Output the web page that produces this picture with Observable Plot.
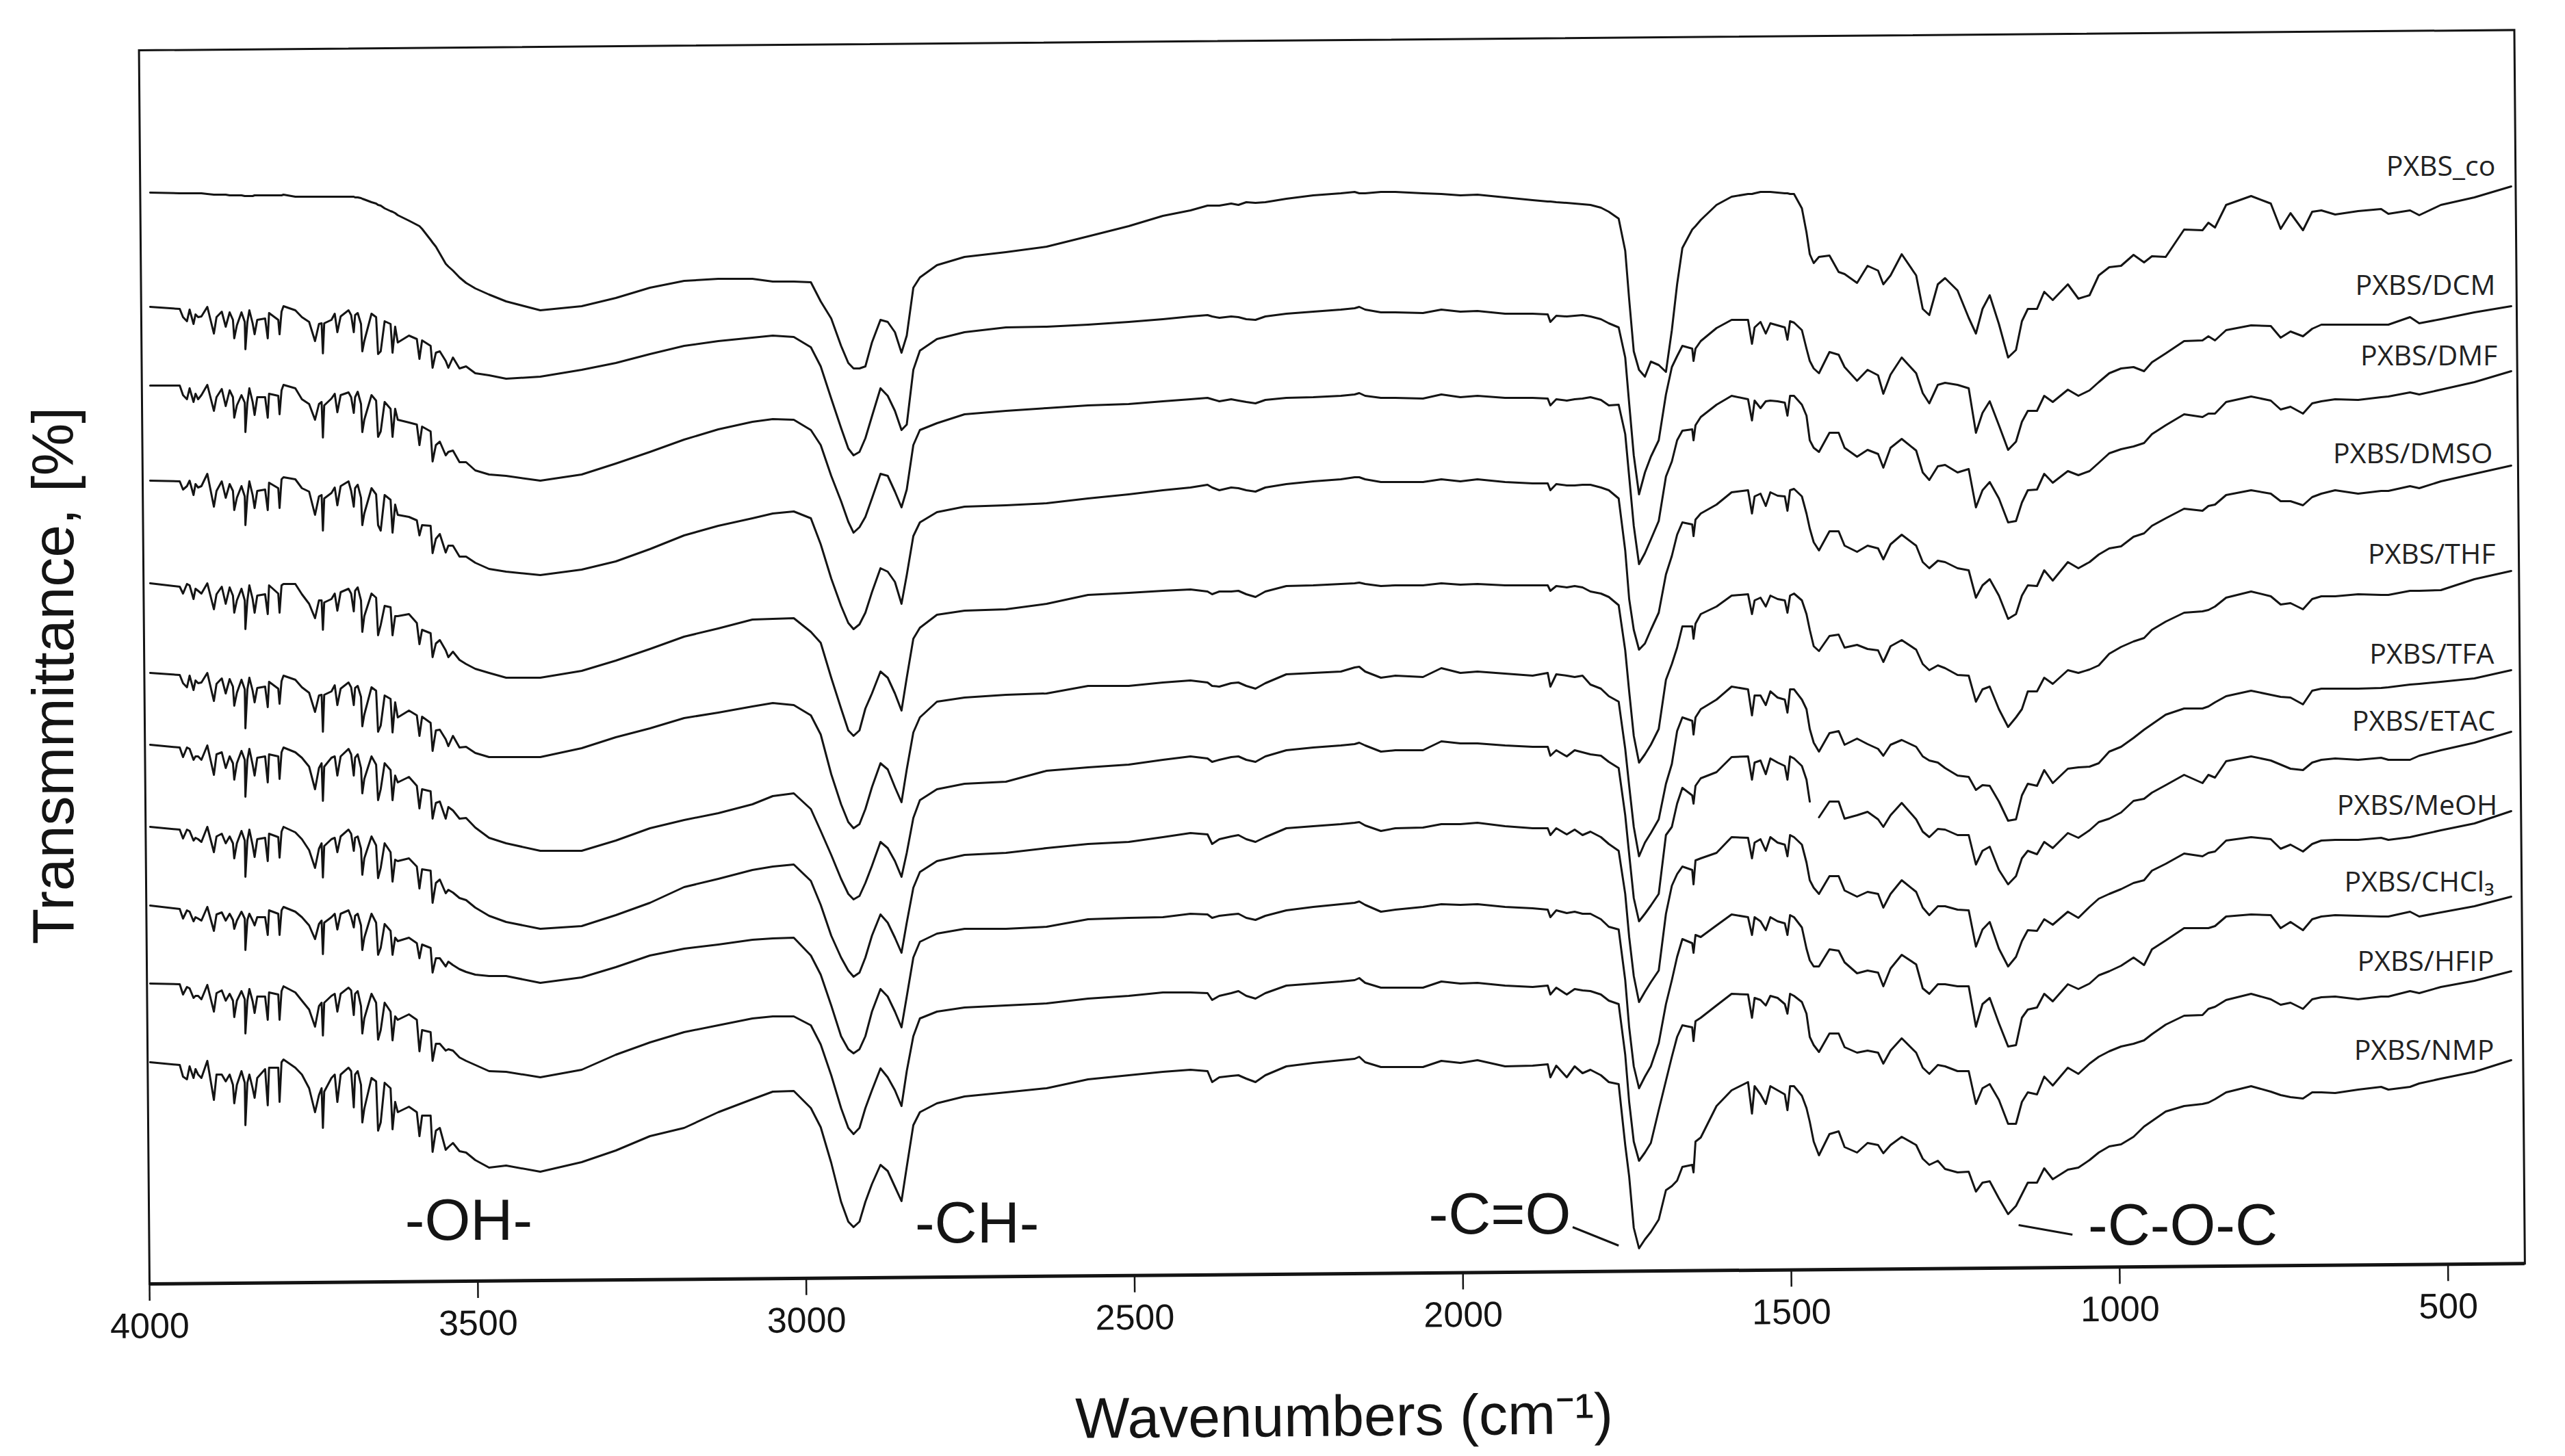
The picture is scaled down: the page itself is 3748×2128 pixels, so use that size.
<!DOCTYPE html>
<html>
<head>
<meta charset="utf-8">
<style>html,body{margin:0;padding:0;background:#fff}svg{display:block}</style>
<script src="https://cdn.jsdelivr.net/npm/d3@7"></script>
<script src="https://cdn.jsdelivr.net/npm/@observablehq/plot@0.6"></script>
</head>
<body>
<div id="chart"></div>
<script>
// Wavenumber grid (cm-1), split in five stretches of the spectrum
const waveA = [3999,3954,3949,3943,3939,3933,3930,3926,3921,3912,3902,3898,3890,3884,3878,3873,3871,3867,3860,3855,3854,3851,3848,3843,3840,3836,3824,3820,3818,3804,3802,3799,3796,3778,3768,3757,3748,3742,3738,3736,3734,3723,3718,3714,3709,3697,3693,3689,3687,3683,3678,3676,3673,3662,3655,3652,3648,3642,3633,3630,3626,3622,3605,3593,3589,3585,3572,3569,3564,3558,3549,3545,3538,3528,3518,3504,3483];
const waveB = [3457,3405,3342,3290,3238,3186,3134,3082,3051,3019,2993,2978,2962,2947,2936,2928,2919,2910,2900,2887,2876,2865,2855,2847,2837,2827,2801,2759,2696];
const waveC = [2634,2571,2509,2457,2415,2389,2382,2371,2353,2342,2330,2316,2301,2269,2228,2186,2165,2158,2149,2125,2103,2061,2033,2004,1978,1936,1894,1871,1867,1858,1842,1830,1818,1806,1790,1778];
const waveD = [1763,1753,1747,1740,1732,1723,1714,1702,1691,1682,1674,1666,1651,1649,1646,1638,1614,1591,1566,1560,1556,1547,1539,1532,1521,1510,1506,1502,1496,1484,1477,1472,1466,1458,1442,1428,1419,1400,1384,1368,1360,1349,1332,1310,1300,1290,1277,1266,1247,1230,1219,1209,1198,1184,1170,1158,1149,1140,1126,1115];
const waveE = [1102,1079,1063,1046,1032,1016,998,979,963,951,930,902,874,865,855,838,800,770,755,740,721,707,693,672,637,602,591,558,544,511,460,404];

// Curve readings, offset-stacked (arbitrary transmittance position, larger = lower on the page)
const co = [
[281,282,282,282,282,282,282,282,282,283,284,284,284,284,285,285,285,285,285,286,286,286,286,286,285,285,285,285,285,285,285,285,284,287,287,287,287,287,287,287,287,287,287,287,287,287,287,287,288,288,289,290,291,295,297,299,300,304,308,309,311,314,322,328,330,334,350,354,360,370,385,389,395,405,413,421,430],
[440,453,447,435,420,410,407,407,411,411,412,440,465,505,530,538,538,535,500,467,470,485,515,490,420,405,387,375,368],
[360,345,330,315,307,300,300,300,297,299,295,296,295,290,285,282,280,282,282,280,280,282,283,285,284,288,292,294,294,295,296,297,298,299,303,309],
[319,366,437,513,540,550,528,533,543,482,415,362,335,333,330,321,299,287,283,283,282,280,280,280,281,282,282,283,283,304,339,371,384,375,373,397,400,413,388,395,415,402,371,402,451,460,415,406,424,464,487,451,431,473,522,511,469,451,451,426],
[438,415,436,431,402,390,388,372,383,374,375,335,336,325,332,299,286,297,334,311,336,309,307,313,308,305,312,307,314,299,288,272]];
const DCM = [
[448,451,463,469,452,473,459,463,462,448,487,463,455,477,456,467,494,475,456,470,510,470,453,472,488,467,465,494,457,467,488,455,447,453,463,470,498,473,472,516,472,467,458,485,462,453,460,485,460,457,473,513,498,458,463,517,513,469,473,515,477,500,490,495,524,497,505,537,515,513,527,537,522,538,535,545,548],
[553,550,540,530,517,505,498,493,490,492,507,535,582,625,655,665,660,640,608,567,578,600,628,620,540,512,495,485,478],
[477,474,470,466,462,460,462,464,462,463,466,467,462,458,455,452,450,448,452,456,456,457,452,455,454,458,458,459,470,461,462,461,460,462,466,472],
[478,522,589,665,722,690,667,643,576,536,520,505,509,527,509,498,479,467,467,502,478,470,487,472,475,478,496,469,471,482,509,527,538,545,514,518,536,556,540,548,575,547,522,545,574,589,562,559,562,567,632,603,586,621,657,645,616,600,600,578],
[587,569,578,570,558,545,538,536,542,529,516,498,497,491,497,482,475,476,493,484,491,480,474,474,474,474,474,463,472,466,456,447]];
const DMF = [
[563,563,577,583,567,587,575,583,577,562,600,580,568,593,570,580,610,592,577,588,631,588,567,587,606,580,580,610,575,578,605,570,562,567,583,590,613,590,587,639,592,582,575,602,577,573,580,603,580,572,590,631,613,577,585,638,630,587,597,638,597,613,617,620,650,623,630,674,650,645,665,660,658,675,675,687,693],
[695,702,693,677,660,642,627,616,612,613,628,650,695,732,762,778,770,755,728,692,695,718,741,715,650,628,618,605,600],
[596,592,590,586,583,581,583,586,583,585,587,589,584,581,580,578,576,574,578,581,581,582,576,580,578,581,581,582,592,583,585,583,582,580,584,592],
[591,634,696,768,824,808,788,761,696,674,643,629,627,643,621,609,591,578,583,614,585,596,586,585,586,588,607,578,578,591,607,643,654,660,632,632,654,667,657,663,683,654,641,658,690,701,681,679,690,685,741,716,704,728,763,761,734,716,715,692],
[705,688,694,688,676,662,656,652,647,634,621,605,609,604,604,587,579,585,598,594,604,589,586,583,584,580,579,573,576,569,558,542]];
const DMSO = [
[702,703,715,710,702,723,707,712,710,692,740,717,703,727,707,717,745,727,710,725,767,725,703,723,742,717,715,745,705,713,742,700,697,700,713,718,752,725,723,775,728,720,712,738,710,703,717,740,713,708,727,767,750,713,722,767,775,723,730,778,737,752,755,760,782,767,768,808,787,780,807,797,797,813,813,822,831],
[835,840,832,820,802,782,768,757,750,747,757,795,845,885,910,919,912,895,865,830,835,850,882,840,783,763,748,740,738],
[735,728,722,716,712,708,712,716,712,713,716,718,712,707,703,700,697,697,700,704,704,704,700,703,700,704,706,706,716,707,709,709,708,708,712,716],
[728,804,875,920,949,940,920,895,839,812,781,763,766,783,759,750,737,719,716,750,725,721,739,719,724,725,746,716,714,725,750,772,792,804,776,776,797,806,797,801,817,795,781,797,821,830,819,821,830,833,873,855,846,870,904,897,870,855,856,833],
[848,821,830,821,810,801,798,784,779,768,757,743,746,739,737,723,716,721,732,732,738,726,721,716,721,717,717,710,713,703,692,680]];
const THF = [
[852,857,867,853,855,875,860,863,867,852,890,868,857,882,858,870,895,877,860,877,919,877,855,875,895,870,868,897,855,867,895,855,853,853,868,882,903,877,877,920,880,875,867,892,865,860,867,893,863,858,877,923,900,867,873,928,913,885,887,928,900,900,897,910,941,920,925,960,940,935,950,960,952,964,970,977,983],
[990,990,980,965,948,930,918,905,904,903,923,939,990,1035,1067,1075,1067,1035,1013,981,990,1013,1038,990,933,917,898,892,890],
[882,869,866,863,861,864,868,864,864,863,868,872,864,856,855,853,852,851,853,856,855,855,852,854,853,855,855,855,863,856,858,856,858,864,867,872],
[884,950,1010,1075,1114,1102,1088,1065,993,970,946,915,915,933,911,897,886,870,868,897,877,873,886,870,875,877,895,870,867,877,897,920,944,951,929,927,946,942,948,950,967,944,935,949,970,979,972,976,986,987,1025,1007,1003,1036,1062,1048,1036,1010,1010,990],
[999,979,983,978,972,955,945,937,932,920,908,895,893,891,886,873,864,871,883,881,890,875,871,871,868,869,869,863,863,862,846,834]];
const TFA = [
[983,986,998,1004,987,1008,994,998,997,983,1024,999,991,1013,992,1003,1031,1012,993,1007,1064,1007,990,1009,1026,1005,1003,1033,996,1006,1028,995,987,993,1004,1012,1040,1016,1015,1069,1015,1010,1001,1030,1006,997,1004,1030,1005,1002,1018,1061,1044,1004,1009,1069,1060,1016,1021,1070,1026,1048,1038,1045,1075,1047,1056,1097,1067,1066,1080,1090,1075,1092,1091,1100,1106],
[1106,1106,1093,1077,1064,1049,1041,1032,1027,1030,1045,1073,1131,1175,1201,1210,1204,1182,1150,1115,1124,1150,1172,1124,1070,1048,1025,1019,1015],
[1013,1002,1002,997,994,997,1002,1003,998,997,1002,1006,998,985,983,981,975,974,981,990,987,989,976,983,981,984,987,983,1003,985,987,989,987,1000,1006,1017],
[1025,1094,1148,1208,1251,1231,1217,1197,1145,1116,1068,1048,1053,1073,1048,1036,1022,1003,1007,1045,1016,1016,1030,1010,1019,1022,1041,1007,1007,1022,1036,1065,1085,1098,1071,1068,1088,1079,1087,1094,1104,1088,1081,1091,1105,1111,1114,1122,1133,1135,1154,1147,1148,1171,1199,1197,1162,1145,1148,1125],
[1144,1123,1121,1120,1115,1098,1091,1078,1066,1058,1044,1035,1035,1032,1026,1017,1009,1015,1018,1019,1029,1009,1006,1006,1006,1005,1004,1000,999,996,991,979]];
const ETAC = [
[1088,1092,1106,1092,1094,1110,1105,1105,1110,1089,1132,1102,1099,1122,1105,1115,1139,1115,1097,1110,1164,1110,1094,1117,1133,1107,1105,1143,1102,1105,1138,1099,1092,1099,1107,1120,1153,1122,1115,1170,1120,1107,1105,1133,1105,1094,1102,1133,1107,1102,1122,1159,1138,1105,1117,1169,1153,1115,1125,1169,1133,1143,1135,1148,1181,1153,1156,1196,1173,1171,1196,1179,1184,1196,1195,1209,1224],
[1232,1243,1243,1228,1210,1198,1188,1175,1163,1159,1182,1214,1249,1284,1306,1314,1309,1290,1265,1230,1239,1258,1281,1246,1195,1169,1153,1145,1142],
[1126,1121,1117,1110,1105,1108,1113,1110,1106,1105,1110,1113,1105,1096,1092,1089,1087,1085,1089,1098,1096,1096,1083,1086,1086,1089,1091,1091,1104,1096,1105,1096,1099,1102,1104,1113],
[1122,1191,1248,1312,1346,1335,1323,1306,1220,1208,1174,1151,1162,1174,1148,1137,1128,1106,1105,1139,1114,1111,1131,1108,1114,1119,1139,1105,1108,1119,1139,1171,null,1194,1171,1171,1196,1191,1186,1197,1208,1191,1173,1197,1215,1223,1211,1212,1220,1220,1263,1243,1237,1271,1292,1280,1254,1243,1248,1230],
[1239,1217,1224,1213,1201,1196,1187,1170,1167,1158,1147,1132,1144,1132,1136,1112,1105,1111,1117,1123,1125,1114,1110,1108,1110,1107,1110,1110,1104,1096,1085,1069]];
const MeOH = [
[1208,1212,1225,1212,1214,1228,1224,1226,1230,1208,1245,1222,1218,1232,1222,1232,1254,1232,1214,1228,1281,1228,1212,1235,1252,1226,1224,1258,1218,1223,1253,1215,1208,1216,1226,1242,1268,1240,1232,1282,1236,1226,1224,1245,1222,1212,1218,1243,1224,1222,1240,1278,1254,1222,1235,1283,1268,1232,1245,1288,1256,1258,1254,1266,1298,1270,1272,1319,1290,1285,1305,1300,1304,1312,1315,1326,1338],
[1347,1357,1353,1337,1319,1296,1284,1271,1266,1263,1287,1322,1367,1399,1418,1427,1421,1399,1367,1336,1348,1370,1392,1348,1297,1274,1258,1249,1246],
[1239,1233,1230,1223,1217,1219,1233,1226,1222,1220,1226,1230,1223,1210,1207,1204,1202,1201,1206,1214,1210,1209,1204,1204,1202,1207,1210,1210,1220,1210,1219,1212,1220,1215,1223,1233],
[1243,1306,1369,1426,1464,1449,1435,1418,1335,1294,1277,1266,1271,1292,1257,1254,1246,1223,1224,1254,1231,1226,1243,1223,1231,1234,1251,1220,1223,1234,1260,1286,1297,1306,1280,1280,1301,1310,1303,1306,1326,1306,1286,1303,1326,1337,1324,1324,1329,1330,1383,1358,1347,1386,1412,1398,1375,1359,1360,1343],
[1351,1332,1341,1325,1313,1306,1299,1290,1286,1272,1262,1247,1251,1246,1244,1228,1223,1226,1240,1234,1244,1233,1228,1227,1227,1224,1227,1223,1220,1213,1203,1185]];
const CHCl3 = [
[1323,1328,1342,1330,1332,1346,1340,1342,1345,1325,1360,1336,1333,1345,1335,1344,1357,1345,1332,1342,1388,1344,1335,1345,1352,1340,1340,1366,1330,1335,1366,1330,1325,1332,1340,1352,1372,1350,1345,1394,1348,1340,1335,1358,1335,1330,1340,1355,1338,1335,1352,1388,1370,1335,1348,1395,1385,1350,1360,1395,1370,1375,1370,1378,1400,1380,1385,1421,1400,1400,1412,1405,1410,1416,1420,1424,1426],
[1426,1436,1428,1413,1396,1386,1380,1373,1371,1370,1396,1424,1469,1514,1533,1539,1533,1514,1478,1445,1456,1478,1501,1456,1399,1376,1364,1357,1357],
[1354,1343,1341,1340,1335,1336,1341,1338,1336,1335,1341,1344,1338,1330,1325,1321,1319,1317,1322,1332,1329,1325,1321,1322,1321,1325,1327,1329,1340,1330,1334,1332,1335,1335,1343,1354],
[1358,1432,1501,1558,1590,1573,1558,1524,1467,1432,1398,1372,1378,1392,1366,1369,1352,1336,1340,1366,1340,1346,1359,1340,1346,1349,1366,1337,1340,1355,1386,1403,1412,1412,1387,1389,1406,1422,1418,1421,1441,1415,1395,1409,1444,1452,1438,1438,1441,1441,1500,1467,1458,1495,1529,1527,1487,1475,1472,1452],
[1463,1438,1445,1437,1425,1419,1411,1399,1410,1387,1374,1356,1356,1356,1353,1339,1336,1337,1356,1347,1359,1343,1339,1337,1338,1339,1339,1332,1339,1333,1324,1310]];
const HFIP = [
[1437,1438,1453,1442,1444,1458,1455,1455,1460,1439,1478,1451,1447,1462,1452,1462,1486,1462,1448,1460,1510,1462,1445,1463,1480,1456,1456,1490,1450,1453,1490,1448,1441,1450,1462,1475,1500,1470,1465,1513,1465,1455,1452,1478,1452,1443,1447,1483,1452,1448,1470,1510,1488,1452,1465,1519,1505,1465,1478,1520,1485,1490,1482,1490,1536,1505,1508,1550,1525,1525,1535,1533,1535,1545,1550,1556,1565],
[1566,1574,1563,1541,1523,1508,1498,1488,1485,1485,1498,1526,1571,1619,1648,1657,1648,1619,1593,1561,1574,1593,1616,1565,1514,1488,1478,1472,1469],
[1466,1459,1455,1450,1450,1451,1461,1455,1451,1448,1455,1459,1451,1440,1437,1434,1432,1429,1436,1443,1443,1443,1434,1437,1436,1440,1442,1440,1453,1443,1453,1445,1447,1448,1453,1462],
[1467,1541,1610,1668,1696,1684,1670,1622,1579,1544,1515,1498,1501,1521,1492,1487,1469,1452,1453,1487,1458,1461,1469,1455,1458,1467,1481,1452,1455,1464,1481,1515,1527,1537,1510,1510,1530,1538,1535,1538,1554,1535,1517,1538,1560,1569,1556,1558,1565,1565,1613,1590,1584,1607,1642,1642,1610,1596,1599,1573],
[1586,1560,1569,1554,1544,1536,1529,1525,1520,1511,1497,1484,1483,1474,1471,1461,1452,1460,1468,1465,1474,1460,1457,1456,1460,1456,1456,1448,1451,1442,1433,1419]];
const NMP = [
[1552,1556,1573,1577,1558,1575,1562,1570,1575,1550,1607,1570,1570,1580,1570,1585,1612,1585,1565,1582,1644,1582,1570,1590,1604,1575,1562,1615,1560,1560,1610,1552,1548,1560,1570,1590,1625,1600,1590,1648,1595,1575,1570,1610,1570,1560,1565,1618,1570,1565,1585,1640,1620,1575,1580,1652,1640,1582,1590,1650,1610,1625,1617,1625,1660,1630,1630,1683,1652,1648,1680,1676,1670,1682,1684,1695,1706],
[1703,1712,1698,1681,1660,1648,1625,1606,1595,1594,1619,1647,1699,1756,1785,1793,1785,1756,1730,1702,1711,1734,1755,1705,1644,1625,1612,1602,1596],
[1590,1577,1571,1566,1563,1565,1581,1574,1572,1571,1576,1581,1571,1558,1553,1549,1547,1544,1552,1559,1559,1559,1550,1553,1549,1558,1557,1555,1574,1557,1574,1558,1568,1563,1571,1581],
[1584,1673,1719,1794,1824,1811,1800,1782,1739,1733,1725,1705,1702,1713,1668,1662,1616,1593,1581,1627,1587,1599,1613,1587,1593,1599,1622,1587,1587,1601,1619,1639,1668,1688,1657,1653,1676,1684,1670,1673,1685,1673,1661,1673,1693,1702,1696,1708,1713,1712,1741,1728,1726,1751,1774,1762,1745,1728,1728,1707],
[1723,1709,1706,1695,1684,1675,1672,1661,1646,1638,1624,1616,1613,1611,1606,1596,1587,1595,1600,1603,1605,1596,1596,1597,1592,1588,1592,1588,1583,1576,1566,1549]];

const tickValues = [4000,3500,3000,2500,2000,1500,1000,500];

const curveNames = ["PXBS_co","PXBS/DCM","PXBS/DMF","PXBS/DMSO","PXBS/THF","PXBS/TFA","PXBS/ETAC","PXBS/MeOH","PXBS/CHCl₃","PXBS/HFIP","PXBS/NMP"];
const curves = [co,DCM,DMF,DMSO,THF,TFA,ETAC,MeOH,CHCl3,HFIP,NMP];
const curveLabelWave = [428,428,425,432,428,430,428,425,430,430,430];
const curveLabelPos = [243,417,520,663,810,956,1054,1177,1289,1405,1535];

const bandNames = ["-OH-","-CH-","-C=O","-C-O-C"];
const bandWave = [3514,2740,1944,904];
const bandPos = [1784,1788,1775,1791];
const leaderWave1 = [1833,1154];
const leaderPos1 = [1793,1790];
const leaderWave2 = [1763,1072];
const leaderPos2 = [1820,1804];

const grid = [waveA,waveB,waveC,waveD,waveE];
const problems = [];
curves.forEach((c,i)=>c.forEach((seg,j)=>{ if(seg.length!==grid[j].length) problems.push(curveNames[i]+" seg"+j+" "+seg.length+"/"+grid[j].length); }));
if(problems.length) throw new Error(problems.join("; "));

const waves = grid.flat();
const rows = curves.flatMap((c,i)=>c.flat().map((t,k)=>({name:curveNames[i],w:waves[k],t})));
const labelRows = curveNames.map((name,i)=>({name,w:curveLabelWave[i],t:curveLabelPos[i]}));
const bandRows = bandNames.map((name,i)=>({name,w:bandWave[i],t:bandPos[i]}));
const leaderRows = leaderWave1.map((w,i)=>({w1:w,t1:leaderPos1[i],w2:leaderWave2[i],t2:leaderPos2[i]}));

const ink = "#141414";
const chart = Plot.plot({
  width: 3748, height: 2128,
  marginLeft: 218, marginRight: 59, marginTop: 73, marginBottom: 252,
  style: {background:"#fff", fontFamily:"'Liberation Sans',Arial,sans-serif", color:ink},
  x: {domain:[4000,383], axis:null},
  y: {domain:[1876,73], axis:null},
  marks: [
    Plot.frame({stroke:ink, strokeWidth:3}),
    Plot.ruleY([1876],{stroke:ink, strokeWidth:5}),
    Plot.axisX({ticks:tickValues, tickFormat:d=>String(d), label:null, anchor:"bottom", tickSize:25, tickPadding:17, fontSize:52, stroke:ink, strokeWidth:2.5, fill:ink}),
    Plot.line(rows,{x:"w",y:"t",z:"name",stroke:ink,strokeWidth:3,strokeLinejoin:"round"}),
    Plot.text(labelRows,{x:"w",y:"t",text:"name",textAnchor:"end",lineAnchor:"middle",fontFamily:"'Open Sans',sans-serif",fontSize:41,fill:"#222"}),
    Plot.text(bandRows,{x:"w",y:"t",text:"name",textAnchor:"middle",lineAnchor:"middle",fontSize:86,fill:ink}),
    Plot.link(leaderRows,{x1:"w1",y1:"t1",x2:"w2",y2:"t2",stroke:ink,strokeWidth:3}),
    Plot.text(["Wavenumbers (cm⁻¹)"],{x:2181,y:2071,text:d=>d,textAnchor:"middle",lineAnchor:"middle",fontSize:84,fill:ink,rotate:-0.5}),
    Plot.text(["Transmmittance, [%]"],{x:4145,y:987,text:d=>d,textAnchor:"middle",lineAnchor:"middle",rotate:-90,fontSize:86,fill:ink})
  ]
});
// The reference's frame and axis sit about half a degree off level; the curves do not.
d3.select(chart).selectAll('[aria-label="frame"],[aria-label="rule"],[aria-label="x-axis tick"],[aria-label="x-axis tick label"]')
  .attr("transform",function(){return "rotate(-0.49 218 1876) "+(this.getAttribute("transform")||"");});
document.getElementById("chart").append(chart);
</script>
</body>
</html>
